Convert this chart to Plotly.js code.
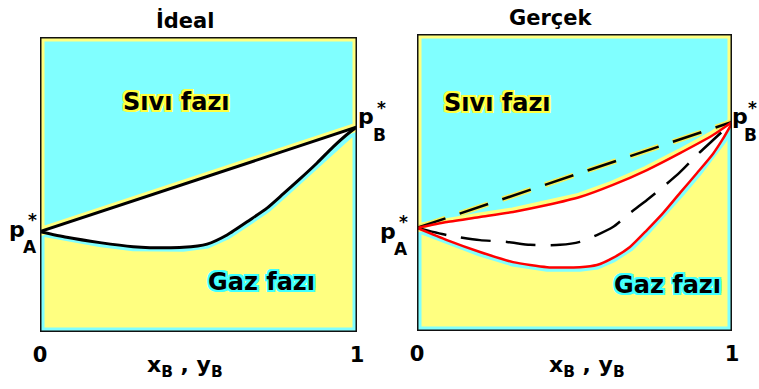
<!DOCTYPE html>
<html>
<head>
<meta charset="utf-8">
<script src="https://cdn.plot.ly/plotly-3.0.1.min.js"></script>
<style>
  html, body { margin: 0; padding: 0; background: #fff; }
  #chart { width: 759px; height: 389px; }
</style>
</head>
<body>
<div id="chart"></div>
<script>
// Ideal solution: liquidus (bubble) is a straight line, vapour (dew) curve sags below it
const xIdealBubble = [0, 1];
const pIdealBubble = [0.340, 0.695];
const xIdealDew = [0, 0.084, 0.189, 0.294, 0.347, 0.452, 0.527, 0.590, 0.662, 0.716, 0.767, 0.820, 0.874, 0.924, 0.978, 1];
const pIdealDew = [0.340, 0.321, 0.303, 0.289, 0.286, 0.287, 0.298, 0.329, 0.380, 0.420, 0.468, 0.519, 0.573, 0.627, 0.678, 0.695];

// Real solution: red bubble / dew curves, with the ideal ones kept as dashed references
const xRealBubble = [0, 0.095, 0.2, 0.305, 0.413, 0.517, 0.622, 0.730, 0.835, 0.940, 1];
const pRealBubble = [0.347, 0.367, 0.384, 0.401, 0.424, 0.451, 0.492, 0.542, 0.599, 0.660, 0.704];
const xRealDew = [0, 0.095, 0.2, 0.305, 0.413, 0.517, 0.571, 0.622, 0.676, 0.730, 0.781, 0.835, 0.889, 0.940, 0.970, 1];
const pRealDew = [0.347, 0.306, 0.266, 0.232, 0.215, 0.215, 0.222, 0.246, 0.283, 0.340, 0.397, 0.465, 0.532, 0.597, 0.645, 0.700];
const xRefBubble = [0, 1];
const pRefBubble = [0.347, 0.704];
const xRefDew = [0, 0.095, 0.2, 0.286, 0.359, 0.454, 0.517, 0.571, 0.622, 0.676, 0.730, 0.781, 0.835, 0.889, 0.940, 1];
const pRefDew = [0.347, 0.323, 0.306, 0.300, 0.290, 0.290, 0.300, 0.323, 0.350, 0.397, 0.441, 0.485, 0.535, 0.593, 0.643, 0.702];

const tickVals = [0, 1];
const tickText = ['0', '1'];
const panelTitles = ['İdeal', 'Gerçek'];
const liquidLabel = 'Sıvı fazı';
const vaporLabel = 'Gaz fazı';
const axisLabel = 'x<sub>B</sub> , y<sub>B</sub>';

const W = 759, H = 389;
const CYAN = '#80ffff';
const YELLOW = '#ffff80';
const FONT = 'DejaVu Sans';

function regionTraces(xa, ya, xUp, pUp, xLo, pLo) {
  // vapour region below the dew curve (cyan rim), liquid region above the bubble curve (yellow rim),
  // and the white two-phase lens in between
  const gas = {
    x: xLo.concat([1, 0, 0]), y: pLo.concat([0, 0, pLo[0]]),
    xaxis: xa, yaxis: ya, mode: 'lines', fill: 'toself', fillcolor: YELLOW,
    line: { color: CYAN, width: 9, shape: 'linear' }, hoverinfo: 'skip'
  };
  const liq = {
    x: xUp.concat([1, 0, 0]), y: pUp.concat([1, 1, pUp[0]]),
    xaxis: xa, yaxis: ya, mode: 'lines', fill: 'toself', fillcolor: CYAN,
    line: { color: YELLOW, width: 9, shape: 'linear' }, hoverinfo: 'skip'
  };
  const lens = {
    x: xUp.concat(xLo.slice().reverse()), y: pUp.concat(pLo.slice().reverse()),
    xaxis: xa, yaxis: ya, mode: 'lines', fill: 'toself', fillcolor: '#ffffff',
    line: { width: 0 }, hoverinfo: 'skip'
  };
  return [gas, liq, lens];
}

function curve(xa, ya, xs, ps, color, width, dash) {
  return {
    x: xs, y: ps, xaxis: xa, yaxis: ya, mode: 'lines',
    line: { color: color, width: width, dash: dash || 'solid', shape: 'spline', smoothing: 0.6 },
    hoverinfo: 'skip'
  };
}

const traces = []
  .concat(regionTraces('x', 'y', xIdealBubble, pIdealBubble, xIdealDew, pIdealDew))
  .concat([
    curve('x', 'y', xIdealBubble, pIdealBubble, '#000', 3),
    curve('x', 'y', xIdealDew, pIdealDew, '#000', 3)
  ])
  .concat(regionTraces('x2', 'y2', xRealBubble, pRealBubble, xRealDew, pRealDew))
  .concat([
    curve('x2', 'y2', xRefBubble, pRefBubble, '#f4f060', 5.5, '30px,15px'),
    curve('x2', 'y2', xRefBubble, pRefBubble, '#000', 2.5, '30px,15px'),
    curve('x2', 'y2', xRefDew, pRefDew, '#000', 2.5, '30px,15px'),
    curve('x2', 'y2', xRealBubble, pRealBubble, '#ff0000', 2.5),
    curve('x2', 'y2', xRealDew, pRealDew, '#ff0000', 2.5)
  ]);

function halo(c) {
  const s = [];
  [[-2, 0], [2, 0], [0, -2], [0, 2], [-2, -2], [2, -2], [-2, 2], [2, 2], [-1, -2], [1, 2]].forEach(function (d) {
    s.push(d[0] + 'px ' + d[1] + 'px 0 ' + c);
  });
  return s.join(', ');
}

function fnt(size, shadowColor) {
  const f = { family: FONT, size: size, color: '#000', weight: 'bold' };
  if (shadowColor) f.shadow = halo(shadowColor);
  return f;
}

// text placed inside a panel, in its data coordinates
function inPlot(xr, yr, x, y, text, size, shadowColor) {
  return {
    xref: xr, yref: yr, x: x, y: y, text: text, showarrow: false,
    xanchor: 'center', yanchor: 'middle', font: fnt(size, shadowColor)
  };
}

// text placed around the panels, given by its centre in pixels
function atPx(px, py, text, size) {
  return {
    xref: 'paper', yref: 'paper', x: px / W, y: 1 - py / H, text: text, showarrow: false,
    xanchor: 'center', yanchor: 'middle', font: fnt(size)
  };
}

function pressureLabel(px, py, sub, dx) {
  // p with a starred superscript stacked over the component subscript
  const d = dx || 15;
  return [
    atPx(px, py, 'p', 22),
    atPx(px + d, py - 9, '*', 17),
    atPx(px + d - 2, py + 18, sub, 17)
  ];
}

const annotations = [
  atPx(185, 21, panelTitles[0], 21),
  atPx(551, 18, panelTitles[1], 21),
  inPlot('x', 'y', 0.432, 0.78, liquidLabel, 24, '#ffff40'),
  inPlot('x', 'y', 0.700, 0.169, vaporLabel, 24, '#40ffff'),
  inPlot('x2', 'y2', 0.254, 0.768, liquidLabel, 24, '#ffff40'),
  inPlot('x2', 'y2', 0.794, 0.155, vaporLabel, 24, '#40ffff'),
  atPx(185, 366, axisLabel, 22),
  atPx(587, 366, axisLabel, 22)
]
  .concat(pressureLabel(17, 229, 'A'))
  .concat(pressureLabel(366, 117, 'B'))
  .concat(pressureLabel(388, 231, 'A'))
  .concat(pressureLabel(740, 117, 'B', 12));

function frame(xr, yr) {
  return {
    type: 'rect', xref: xr, yref: yr, x0: 0, x1: 1, y0: 0, y1: 1,
    line: { color: '#111', width: 3 }, layer: 'above'
  };
}

const xBase = {
  range: [0, 1], tickvals: tickVals, ticktext: tickText, ticks: '', ticklen: 0,
  showgrid: false, zeroline: false, showline: false, fixedrange: true,
  tickfont: { family: FONT, size: 21, color: '#000', weight: 'bold' }, ticklabelstandoff: 8
};
const yBase = { range: [0, 1], showgrid: false, zeroline: false, showline: false, showticklabels: false, ticks: '', fixedrange: true };

const layout = {
  width: W, height: H,
  margin: { l: 0, r: 0, t: 0, b: 0 },
  paper_bgcolor: '#fff', plot_bgcolor: '#fff',
  showlegend: false,
  xaxis: Object.assign({}, xBase, { domain: [40 / W, 357 / W], anchor: 'y' }),
  yaxis: Object.assign({}, yBase, { domain: [57 / H, 352 / H], anchor: 'x' }),
  xaxis2: Object.assign({}, xBase, { domain: [417 / W, 732 / W], anchor: 'y2' }),
  yaxis2: Object.assign({}, yBase, { domain: [58 / H, 355 / H], anchor: 'x2' }),
  shapes: [frame('x', 'y'), frame('x2', 'y2')],
  annotations: annotations
};

Plotly.newPlot('chart', traces, layout, { staticPlot: true, displayModeBar: false });
</script>
</body>
</html>
